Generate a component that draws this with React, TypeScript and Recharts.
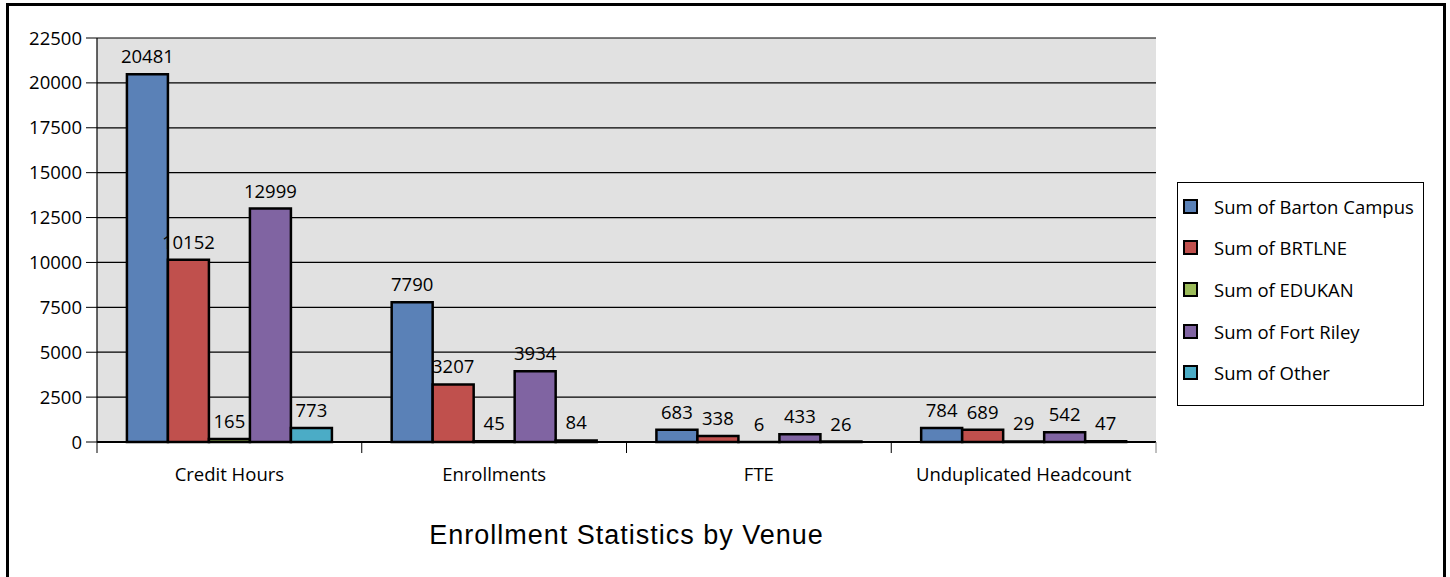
import React from "react";
import {
  BarChart,
  Bar,
  XAxis,
  YAxis,
  CartesianGrid,
  LabelList,
} from "recharts";

const categories = ["Credit Hours", "Enrollments", "FTE", "Unduplicated Headcount"];
const bartonCampus = [20481, 7790, 683, 784];
const brtlne = [10152, 3207, 338, 689];
const edukan = [165, 45, 6, 29];
const fortRiley = [12999, 3934, 433, 542];
const other = [773, 84, 26, 47];
const yTicks = [0, 2500, 5000, 7500, 10000, 12500, 15000, 17500, 20000, 22500];

const series = [
  { key: "barton", name: "Sum of Barton Campus", color: "#5A81B7", values: bartonCampus },
  { key: "brtlne", name: "Sum of BRTLNE", color: "#C0504D", values: brtlne },
  { key: "edukan", name: "Sum of EDUKAN", color: "#9BBB59", values: edukan },
  { key: "fort", name: "Sum of Fort Riley", color: "#8064A2", values: fortRiley },
  { key: "other", name: "Sum of Other", color: "#4BACC6", values: other },
];

const data = categories.map((c, i) => {
  const row: Record<string, string | number> = { category: c };
  series.forEach((s) => {
    row[s.key] = s.values[i];
  });
  return row;
});

const FONT = "'Open Sans', sans-serif";
const FS = 18.5;

const CHART_W = 1450;
const CHART_H = 577;
const MARGIN = { top: 38, right: 294, bottom: 95, left: 0 };
const Y_W = 97;
const PLOT_W = CHART_W - MARGIN.left - MARGIN.right - Y_W;
const HALF_BAND = PLOT_W / categories.length / 2;

const CategoryTick = (props: any) => {
  const { x, y, payload, index } = props;
  const isLast = index === categories.length - 1;
  return (
    <g>
      <line x1={x - HALF_BAND} x2={x - HALF_BAND} y1={y} y2={y + 11} stroke="#000" strokeWidth={1} />
      {isLast && (
        <line x1={x + HALF_BAND} x2={x + HALF_BAND} y1={y} y2={y + 11} stroke="#808080" strokeWidth={1} />
      )}
      <text
        x={x}
        y={y + 39}
        textAnchor="middle"
        fill="#000"
        fontSize={FS}
        fontFamily={FONT}
      >
        {payload.value}
      </text>
    </g>
  );
};

const LegendBox = () => (
  <div
    style={{
      position: "absolute",
      left: 1177,
      top: 182,
      width: 245,
      height: 219,
      border: "1px solid #000",
      background: "#fff",
      fontFamily: FONT,
      fontSize: FS,
      color: "#000",
      paddingTop: 2.5,
      boxSizing: "content-box",
    }}
  >
    {series.map((s) => (
      <div
        key={s.key}
        style={{ display: "flex", alignItems: "center", height: 41.6, paddingLeft: 5 }}
      >
        <div
          style={{
            width: 11,
            height: 11,
            background: s.color,
            border: "2px solid #000",
            marginRight: 16,
          }}
        />
        <span style={{ whiteSpace: "nowrap" }}>{s.name}</span>
      </div>
    ))}
  </div>
);

export default function App() {
  return (
    <div
      style={{
        position: "absolute",
        left: 0,
        top: 0,
        width: CHART_W,
        height: CHART_H,
        overflow: "hidden",
        background: "#fff",
      }}
    >
      <div
        style={{
          position: "absolute",
          left: 6,
          top: 3,
          width: 1434,
          height: 620,
          border: "3px solid #000",
        }}
      />
      <div style={{ position: "absolute", left: 0, top: 0 }}>
        <BarChart
          width={CHART_W}
          height={CHART_H}
          data={data}
          margin={MARGIN}
          barCategoryGap="11.3%"
          barGap={0}
        >
          <CartesianGrid
            vertical={false}
            stroke="#000"
            strokeWidth={1.2}
            fill="#E1E1E1"
            fillOpacity={1}
          />
          <XAxis
            dataKey="category"
            height={40}
            axisLine={{ stroke: "#000", strokeWidth: 2 }}
            tickLine={false}
            tickSize={0}
            tickMargin={0}
            interval={0}
            tick={<CategoryTick />}
          />
          <YAxis
            width={Y_W}
            domain={[0, 22500]}
            ticks={yTicks}
            interval={0}
            axisLine={{ stroke: "#000", strokeWidth: 1.2 }}
            tickLine={{ stroke: "#000" }}
            tickSize={11}
            tickMargin={4}
            tick={{ fill: "#000", fontSize: FS, fontFamily: FONT }}
          />
          <YAxis
            yAxisId="right"
            orientation="right"
            width={0}
            domain={[0, 22500]}
            axisLine={{ stroke: "#808080", strokeWidth: 1.5 }}
            tickLine={false}
            tick={false}
          />
          {series.map((s) => (
            <Bar
              key={s.key}
              dataKey={s.key}
              name={s.name}
              fill={s.color}
              stroke="#000"
              strokeWidth={2.5}
              isAnimationActive={false}
            >
              <LabelList
                dataKey={s.key}
                position="top"
                offset={11}
                fill="#000"
                fontSize={FS}
                fontFamily={FONT}
              />
            </Bar>
          ))}
        </BarChart>
      </div>
      <LegendBox />
      <div
        style={{
          position: "absolute",
          left: 97,
          width: 1059,
          top: 520,
          textAlign: "center",
          fontFamily: "'Liberation Sans', Arial, sans-serif",
          fontSize: 27,
          letterSpacing: 1,
          color: "#000",
        }}
      >
        Enrollment Statistics by Venue
      </div>
    </div>
  );
}
